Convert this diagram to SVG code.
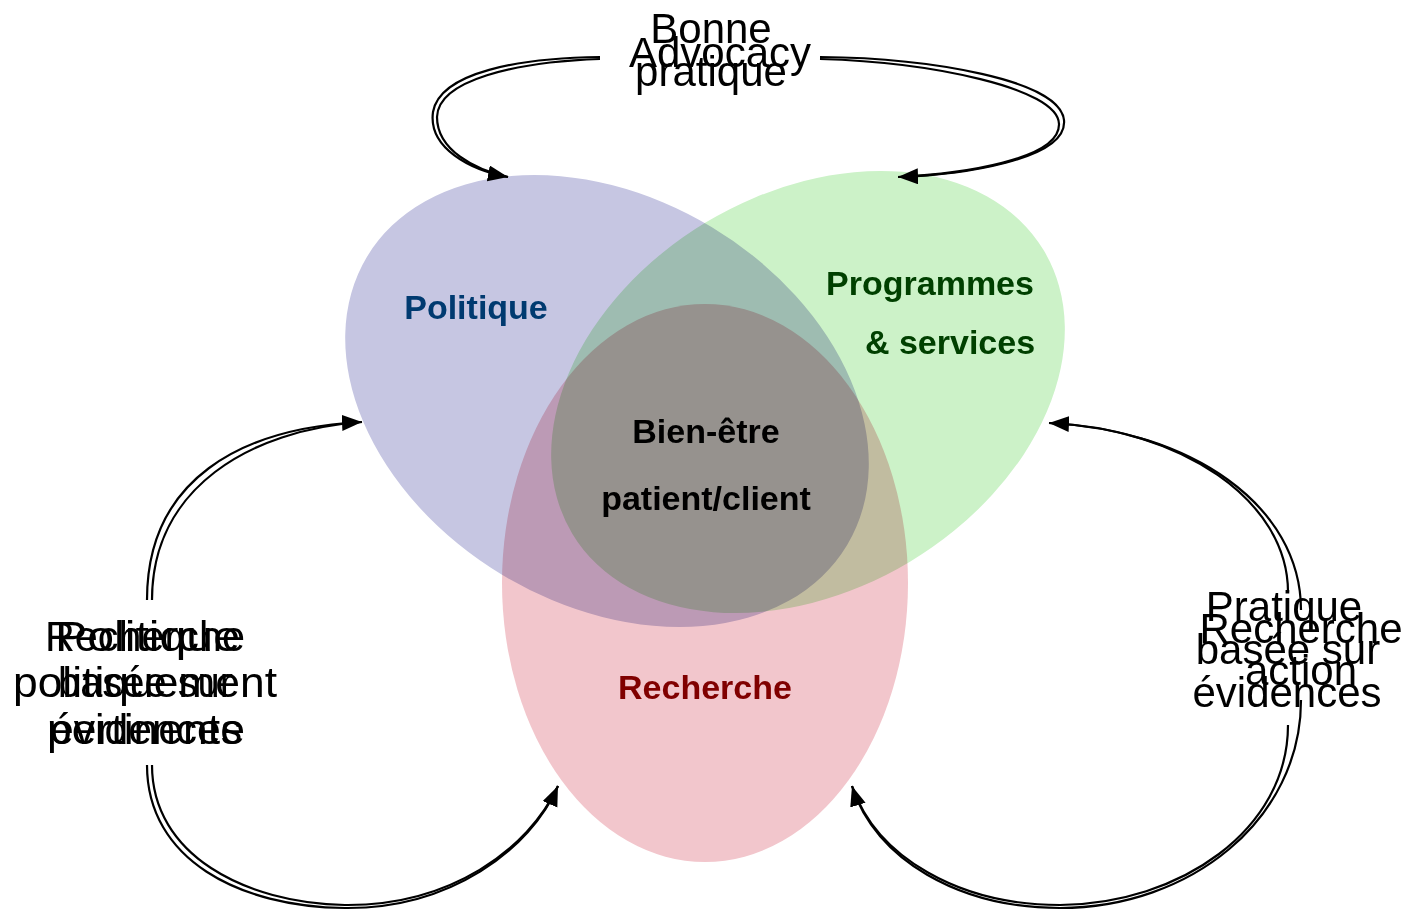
<svg xmlns="http://www.w3.org/2000/svg" width="1406" height="910" viewBox="0 0 1406 910">
<style>
.set{mix-blend-mode:multiply}
.lbl{font-family:"Liberation Sans",Arial,sans-serif;font-weight:bold;font-size:34px;text-anchor:middle}
.cap{font-family:"Liberation Sans",Arial,sans-serif;font-size:42px;fill:#000}
.mid{text-anchor:middle}
.con{fill:none;stroke:#000;stroke-width:2.2}
</style>
<defs>
<marker id="ah" markerUnits="userSpaceOnUse" markerWidth="22" markerHeight="18" refX="20" refY="8" orient="auto">
<path d="M0,0 L20,8 L0,16 z" fill="#000"/>
</marker>
</defs>
<rect width="1406" height="910" fill="#fff"/>
<g id="politique">
<ellipse class="set" cx="607" cy="401" rx="280" ry="203" transform="rotate(31 607 401)" fill="#c6c6e2"/>
</g>
<g id="programmes">
<ellipse class="set" cx="808" cy="392" rx="275" ry="198" transform="rotate(-31 808 392)" fill="#ccf2c8"/>
</g>
<g id="recherche">
<ellipse class="set" cx="705" cy="583" rx="203" ry="279" fill="#f2c6cc"/>
</g>
<g id="labels">
<text class="lbl" x="476" y="319" fill="#003a70">Politique</text>
<text class="lbl" x="930" y="295" fill="#004000">Programmes</text>
<text class="lbl" x="950" y="354" fill="#004000">&amp; services</text>
<text class="lbl" x="706" y="443" fill="#000">Bien-être</text>
<text class="lbl" x="706" y="510" fill="#000">patient/client</text>
<text class="lbl" x="705" y="699" fill="#800000">Recherche</text>
</g>
<g id="connectors">
<path class="con" d="M600,57 C520,58 440,72 433,112 C428,148 470,170 508,177" marker-end="url(#ah)"/>
<path class="con" d="M600,59 C515,62 438,80 437,117 C437,150 475,170 508,177"/>
<path class="con" d="M820,57 C930,58 1060,80 1064,120 C1068,160 960,175 898,177" marker-end="url(#ah)"/>
<path class="con" d="M820,59 C930,62 1058,88 1059,124 C1060,160 960,174 898,177"/>
<path class="con" d="M147,600 C147,480 240,428 362,422" marker-end="url(#ah)"/>
<path class="con" d="M152,600 C152,488 250,430 362,422"/>
<path class="con" d="M147,765 C147,860 240,907 345,908 C450,909 530,850 558,786" marker-end="url(#ah)"/>
<path class="con" d="M152,765 C152,855 245,903 345,905 C450,906 528,850 558,786"/>
<path class="con" d="M1301,610 C1301,505 1190,430 1049,423" marker-end="url(#ah)"/>
<path class="con" d="M1288,592 C1288,500 1180,428 1049,423"/>
<path class="con" d="M1301,700 C1301,820 1190,908 1060,908 C960,908 875,860 852,786" marker-end="url(#ah)"/>
<path class="con" d="M1288,725 C1288,830 1180,904 1060,905 C960,905 877,858 852,786"/>
</g>
<g id="top-labels">
<text class="cap mid" x="711" y="43">Bonne</text>
<text class="cap mid" x="711" y="86">pratique</text>
<text class="cap mid" x="720" y="67">Advocacy</text>
</g>
<g id="left-labels">
<text class="cap" x="45" y="651" textLength="200" lengthAdjust="spacingAndGlyphs">Recherche</text>
<text class="cap" x="13" y="697" textLength="264" lengthAdjust="spacingAndGlyphs">politiquement</text>
<text class="cap" x="47" y="744" textLength="198" lengthAdjust="spacingAndGlyphs">pertinente</text>
<text class="cap" x="55" y="651" textLength="185" lengthAdjust="spacingAndGlyphs">Politique</text>
<text class="cap" x="58" y="697" textLength="175" lengthAdjust="spacingAndGlyphs">basée sur</text>
<text class="cap" x="50" y="744" textLength="192" lengthAdjust="spacingAndGlyphs">évidences</text>
</g>
<g id="right-labels">
<text class="cap mid" x="1284" y="621">Pratique</text>
<text class="cap mid" x="1288" y="664">basée sur</text>
<text class="cap mid" x="1287" y="707">évidences</text>
<text class="cap mid" x="1301" y="643">Recherche</text>
<text class="cap mid" x="1301" y="685">action</text>
</g>
</svg>
